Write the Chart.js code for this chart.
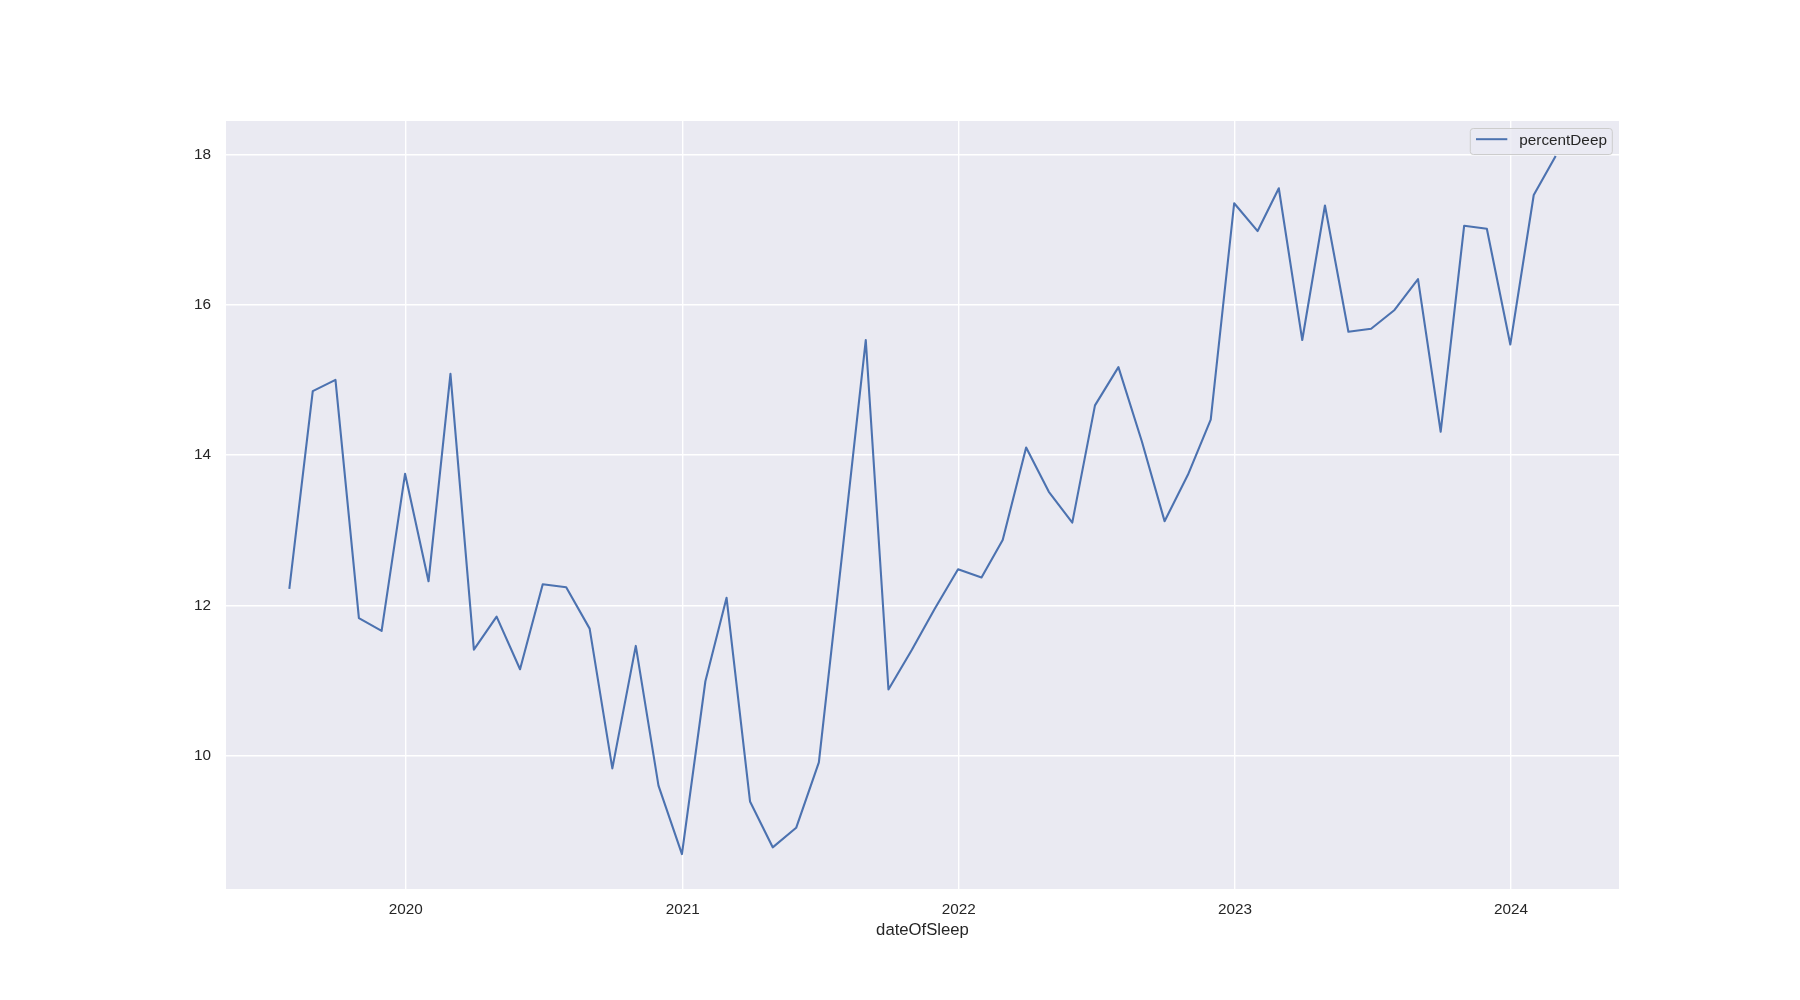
<!DOCTYPE html>
<html><head><meta charset="utf-8">
<script src="https://cdn.jsdelivr.net/npm/chart.js@4"></script>
<style>html,body{margin:0;padding:0;background:#fff;}</style>
</head><body>
<canvas id="c" width="1800" height="1000"></canvas>
<script>
const dates = [
  '2019-07-31','2019-08-31','2019-09-30','2019-10-31','2019-11-30','2019-12-31',
  '2020-01-31','2020-02-29','2020-03-31','2020-04-30','2020-05-31','2020-06-30',
  '2020-07-31','2020-08-31','2020-09-30','2020-10-31','2020-11-30','2020-12-31',
  '2021-01-31','2021-02-28','2021-03-31','2021-04-30','2021-05-31','2021-06-30',
  '2021-07-31','2021-08-31','2021-09-30','2021-10-31','2021-11-30','2021-12-31',
  '2022-01-31','2022-02-28','2022-03-31','2022-04-30','2022-05-31','2022-06-30',
  '2022-07-31','2022-08-31','2022-09-30','2022-10-31','2022-11-30','2022-12-31',
  '2023-01-31','2023-02-28','2023-03-31','2023-04-30','2023-05-31','2023-06-30',
  '2023-07-31','2023-08-31','2023-09-30','2023-10-31','2023-11-30','2023-12-31',
  '2024-01-31','2024-02-29'
];
const percentDeep = [
  12.22, 14.85, 15.00, 11.83, 11.66, 13.75,
  12.32, 15.08, 11.41, 11.85, 11.15, 12.28,
  12.24, 11.69, 9.83, 11.46, 9.60, 8.69,
  10.99, 12.10, 9.39, 8.78, 9.04, 9.91,
  12.70, 15.53, 10.88, 11.41, 11.95, 12.48,
  12.37, 12.87, 14.10, 13.51, 13.10, 14.66,
  15.17, 14.18, 13.12, 13.74, 14.47, 17.35,
  16.98, 17.55, 15.53, 17.32, 15.64, 15.68,
  15.93, 16.34, 14.31, 17.05, 17.01, 15.47,
  17.46, 17.98
];
const yearTickLabels = ['2020','2021','2022','2023','2024'];
const yTicks = [10, 12, 14, 16, 18];
const seriesName = 'percentDeep';
const xAxisTitle = 'dateOfSleep';

const DAY = 86400000;
const toDay = s => Date.parse(s + 'T00:00:00Z') / DAY;
const points = dates.map((d, i) => ({x: toDay(d), y: percentDeep[i]}));
const yearTickValues = yearTickLabels.map(y => toDay(y + '-01-01'));

const xs = points.map(p => p.x), ys = percentDeep;
const xmin0 = Math.min(...xs), xmax0 = Math.max(...xs);
const ymin0 = Math.min(...ys), ymax0 = Math.max(...ys);
const xm = 0.05 * (xmax0 - xmin0), ym = 0.05 * (ymax0 - ymin0);

const TEXT = '#262626';
const FONT = "'Liberation Sans', Arial, sans-serif";

const bgPlugin = {
  id: 'bg',
  beforeDraw(chart) {
    const {ctx, chartArea: a} = chart;
    ctx.save();
    ctx.fillStyle = '#ffffff';
    ctx.fillRect(0, 0, chart.width, chart.height);
    ctx.fillStyle = '#EAEAF2';
    ctx.fillRect(a.left, a.top, a.right - a.left, a.bottom - a.top);
    ctx.restore();
  }
};

const legendPlugin = {
  id: 'mplLegend',
  afterDraw(chart) {
    const {ctx, chartArea: a} = chart;
    const ds = chart.data.datasets[0];
    ctx.save();
    ctx.font = '15.3px ' + FONT;
    const w = 142;
    const h = 26;
    const x = a.right - 6.7 - w, y = a.top + 7.5;
    const r = 3;
    ctx.beginPath();
    ctx.moveTo(x + r, y);
    ctx.lineTo(x + w - r, y);
    ctx.quadraticCurveTo(x + w, y, x + w, y + r);
    ctx.lineTo(x + w, y + h - r);
    ctx.quadraticCurveTo(x + w, y + h, x + w - r, y + h);
    ctx.lineTo(x + r, y + h);
    ctx.quadraticCurveTo(x, y + h, x, y + h - r);
    ctx.lineTo(x, y + r);
    ctx.quadraticCurveTo(x, y, x + r, y);
    ctx.closePath();
    ctx.fillStyle = 'rgba(234,234,242,0.8)';
    ctx.fill();
    ctx.strokeStyle = '#cccccc';
    ctx.lineWidth = 1;
    ctx.stroke();
    ctx.beginPath();
    ctx.moveTo(x + 5.7, y + 10.7);
    ctx.lineTo(x + 37, y + 10.7);
    ctx.strokeStyle = ds.borderColor;
    ctx.lineWidth = 2;
    ctx.stroke();
    ctx.fillStyle = TEXT;
    ctx.textBaseline = 'middle';
    ctx.textAlign = 'left';
    ctx.fillText(ds.label, x + 49, y + 12.4);
    ctx.restore();
  }
};

new Chart(document.getElementById('c'), {
  type: 'line',
  data: {
    datasets: [{
      label: seriesName,
      data: points,
      borderColor: '#4C72B0',
      backgroundColor: '#4C72B0',
      borderWidth: 2.1,
      pointRadius: 0,
      tension: 0,
      fill: false,
      borderJoinStyle: 'round'
    }]
  },
  options: {
    responsive: false,
    animation: false,
    devicePixelRatio: 1,
    layout: {padding: {left: 0, right: 181, top: 121, bottom: 0}},
    plugins: {legend: {display: false}, tooltip: {enabled: false}},
    scales: {
      x: {
        type: 'linear',
        min: xmin0 - xm,
        max: xmax0 + xm,
        afterFit(s) { s.height = 111; },
        afterBuildTicks(s) { s.ticks = yearTickValues.map(v => ({value: v})); },
        grid: {color: '#ffffff', lineWidth: 1.4, drawTicks: false},
        border: {display: false},
        ticks: {
          autoSkip: false,
          maxRotation: 0,
          padding: 12,
          color: TEXT,
          font: {family: FONT, size: 15.3},
          callback(v) {
            const i = yearTickValues.indexOf(v);
            return i >= 0 ? yearTickLabels[i] : '';
          }
        },
        title: {
          display: true,
          text: xAxisTitle,
          color: TEXT,
          font: {family: FONT, size: 16.7},
          padding: {top: 0, bottom: 60}
        }
      },
      y: {
        type: 'linear',
        min: ymin0 - ym,
        max: ymax0 + ym,
        afterFit(s) { s.width = 226; },
        afterBuildTicks(s) { s.ticks = yTicks.map(v => ({value: v})); },
        grid: {color: '#ffffff', lineWidth: 1.4, drawTicks: false},
        border: {display: false},
        ticks: {
          padding: 15,
          color: TEXT,
          font: {family: FONT, size: 15.3},
          callback(v) { return String(v); }
        }
      }
    }
  },
  plugins: [bgPlugin, legendPlugin]
});
</script>
</body></html>
